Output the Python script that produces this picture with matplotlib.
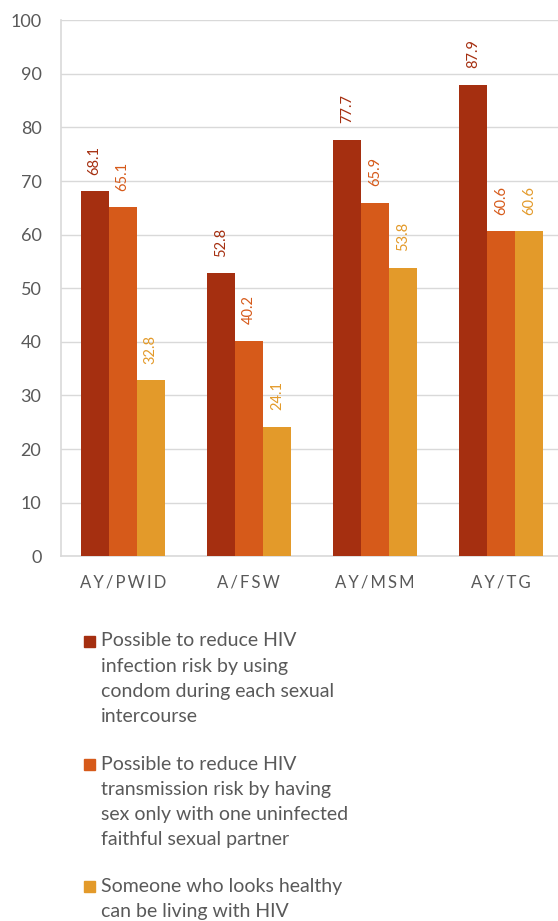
import matplotlib.pyplot as plt
from matplotlib.patches import Rectangle
import numpy as np

plt.rcParams['font.family'] = ['Lato', 'DejaVu Sans']

groups = ["AY/PWID", "A/FSW", "AY/MSM", "AY/TG"]
condom = [68.1, 52.8, 77.7, 87.9]
one_partner = [65.1, 40.2, 65.9, 60.6]
looks_healthy = [32.8, 24.1, 53.8, 60.6]

series_names = [
    "Possible to reduce HIV\ninfection risk by using\ncondom during each sexual\nintercourse",
    "Possible to reduce HIV\ntransmission risk by having\nsex only with one uninfected\nfaithful sexual partner",
    "Someone who looks healthy\ncan be living with HIV",
]
colors = ["#A52F10", "#D65A1A", "#E39A2A"]

fig = plt.figure(figsize=(5.58, 9.21), dpi=100)
ax = fig.add_axes([0.109, 0.396, 0.891, 0.582])

x = np.arange(len(groups))
w = 0.222
for i, vals in enumerate([condom, one_partner, looks_healthy]):
    xs = x + (i - 1) * w
    ax.bar(xs, vals, width=w, color=colors[i], edgecolor='none', zorder=3)
    for xi, v in zip(xs, vals):
        ax.annotate(f"{v:.1f}", (xi, v), xytext=(0, 12), textcoords='offset points',
                    rotation=90, ha='center', va='bottom', fontsize=10.5,
                    color=colors[i])

ax.set_ylim(0, 100)
ax.set_xlim(-0.49, 3.45)
ax.set_yticks(range(0, 101, 10))
ax.yaxis.grid(True, color='#D9D9D9', linewidth=1, zorder=0)
ax.tick_params(axis='y', length=0, pad=14, labelsize=13, labelcolor='#595959')
ax.tick_params(axis='x', length=0, pad=13, labelsize=12, labelcolor='#595959')
ax.set_xticks(x)
ax.set_xticklabels(["\u2009".join(g) for g in groups])
for s in ['top', 'right']:
    ax.spines[s].set_visible(False)
for s in ['left', 'bottom']:
    ax.spines[s].set_color('#D9D9D9')
    ax.spines[s].set_linewidth(1.2)

# legend drawn by hand so the square sits on the first line
H = 921.0
W = 558.0
tops = [641, 764, 886]
for name, c, y in zip(series_names, colors, tops):
    fig.patches.append(Rectangle((84 / W, 1 - (y + 5.5) / H), 11 / W, 11 / H,
                                 transform=fig.transFigure, color=c))
    fig.text(101 / W, 1 - (y - 8.5) / H, name, ha='left', va='top',
             fontsize=14, color='#595959', linespacing=1.585)

fig.savefig("out.png", dpi=100)
